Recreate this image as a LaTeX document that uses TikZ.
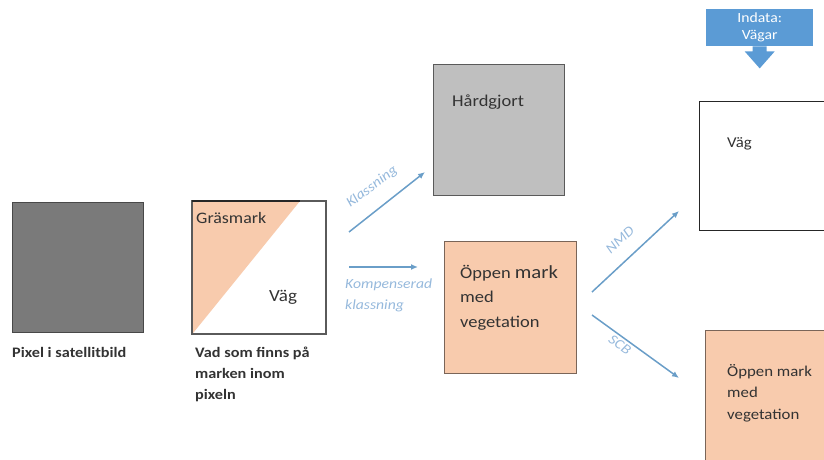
\documentclass[tikz,border=0pt]{standalone}
\usepackage{fontspec}
\setmainfont[FakeStretch=1.12]{Carlito}
\usetikzlibrary{arrows.meta}
\definecolor{pixgrey}{HTML}{7A7A7A}
\definecolor{hardgrey}{HTML}{BFBFBF}
\definecolor{edgegrey}{HTML}{5A5A5A}
\definecolor{peach}{HTML}{F8CBAD}
\definecolor{peachedge}{HTML}{7A6558}
\definecolor{inblue}{HTML}{5B9BD5}
\definecolor{arrowblue}{HTML}{6A9EC8}
\definecolor{labelblue}{HTML}{96B9DC}
\definecolor{textdark}{HTML}{333333}
\begin{document}
\begin{tikzpicture}[x=1pt,y=-1pt,
  box/.style={draw=edgegrey, line width=1.4pt, inner sep=0pt, anchor=north west},
  conn/.style={draw=arrowblue, line width=1.5pt, -{Latex[length=7pt,width=6pt]}},
  lbl/.style={inner sep=0pt, font=\itshape\fontsize{14}{21}\selectfont, text=labelblue},
  boxtext/.style={anchor=base west, inner sep=0pt, align=left, text=textdark},
  captext/.style={anchor=base west, inner sep=0pt, align=left, text=textdark, font=\bfseries\fontsize{14.5}{21}\selectfont}]
\useasboundingbox (0,0) rectangle (824,460);
\clip (0,0) rectangle (824,460);
% pixel
\node[box, fill=pixgrey, draw=edgegrey!80!black, minimum width=131pt, minimum height=130pt] (pix) at (12,202) {};
\node[captext] (pixcap) at (12,357) {Pixel i satellitbild};
% mixed pixel
\node[box, fill=white, minimum width=133pt, minimum height=132pt] (mix) at (192,201) {};
\fill[peach] (mix.north west) -- ([xshift=108pt]mix.north west) -- (mix.south west) -- cycle;
\draw[edgegrey, line width=1.4pt] (mix.north west) rectangle (mix.south east);
\draw[black!85, line width=1.6pt] (mix.north west) -- ([xshift=108pt]mix.north west);
\node[boxtext, font=\fontsize{16}{20}\selectfont] (gras) at (196,223) {Gräsmark};
\node[boxtext, font=\fontsize{17}{20}\selectfont] (vag1) at (269,301) {Väg};
% base anchor of a multi-line node = baseline of its last line
\node[captext] (mixcap) at (195,399) {Vad som finns på\\marken inom\\pixeln};
% arrows from mixed pixel
\coordinate (k1s) at (349,232);
\coordinate (k1e) at (425,172);
\coordinate (k2s) at (349,267);
\coordinate (k2e) at (418,267);
\draw[conn] (k1s) -- (k1e);
\draw[conn] (k2s) -- (k2e);
\node[lbl, rotate=37] (klbl) at (372,187) {Klassning};
\node[lbl, anchor=base west, align=left] (kplbl) at (345,309) {Kompenserad\\klassning};
% Hårdgjort
\node[box, fill=hardgrey, minimum width=131pt, minimum height=131pt] (hard) at (433,64) {};
\node[boxtext, font=\fontsize{16.5}{20}\selectfont] (hardt) at (452,106) {Hårdgjort};
% Öppen mark 1
\node[box, fill=peach, draw=peachedge, minimum width=132pt, minimum height=132pt] (open1) at (444,241) {};
\node[boxtext, font=\fontsize{16.5}{24.5}\selectfont] (open1t) at (460,327) {Öppen {\fontsize{18.5}{24.5}\selectfont mark}\\med\\vegetation};
% arrows right
\coordinate (n1s) at (592,292);
\coordinate (n1e) at (679,211);
\coordinate (s1s) at (592,315);
\coordinate (s1e) at (679,378);
\draw[conn] (n1s) -- (n1e);
\draw[conn] (s1s) -- (s1e);
\node[lbl, rotate=43] (nlbl) at (620,240) {NMD};
\node[lbl, rotate=-36] (slbl) at (620,345) {SCB};
% Indata
\node[anchor=north west, fill=inblue, inner sep=0pt, minimum width=107pt, minimum height=37pt, align=center, text=white, font=\fontsize{14}{17}\selectfont] (indata) at (706,9) {Indata:\\Vägar};
\fill[inblue] ([xshift=-7pt]indata.south) -- ++(0,5) -- ++(-8,0) -- ++(15,17) -- ++(15,-17) -- ++(-8,0) -- ++(0,-5) -- cycle;
% Väg box
\node[box, fill=white, draw=black!85, minimum width=150pt, minimum height=129pt] (vagbox) at (699,101) {};
\node[boxtext, font=\fontsize{15}{20}\selectfont] (vag2) at (727,147) {Väg};
% Öppen mark 2
\node[box, fill=peach, draw=peachedge, minimum width=150pt, minimum height=150pt] (open2) at (705,330) {};
\node[boxtext, font=\fontsize{15}{21.5}\selectfont] (open2t) at (727,419) {Öppen mark\\med\\vegetation};
\end{tikzpicture}
\end{document}
